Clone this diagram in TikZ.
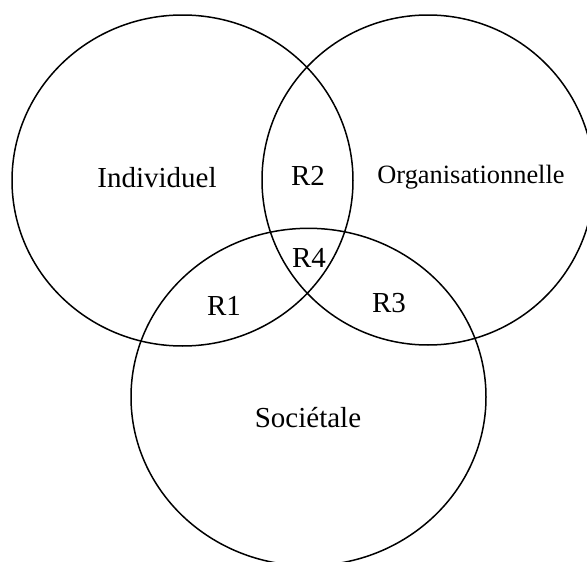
\documentclass[tikz,border=0pt]{standalone}
\usepackage{fontspec}
\setmainfont{Liberation Serif}

\begin{document}
\begin{tikzpicture}[x=1pt, y=-1pt,
	set/.style={line width=1.5pt},
	label/.style={anchor=base, inner sep=0pt, font=\fontsize{29}{29}\selectfont},
	small label/.style={label, font=\fontsize{26.4}{26.4}\selectfont}]
	\useasboundingbox (0,0) rectangle (587,562);
	\clip (0,0) rectangle (587,562);
	% the three sets
	\draw[set] (182.5,180.5) ellipse [x radius=170.5, y radius=165.5];
	\draw[set] (428,180) ellipse [x radius=166, y radius=165];
	\draw[set] (308.5,397) ellipse [x radius=177.5, y radius=168.7];
	% names
	\node[label] (ind) at (157,187) {Individuel};
	\node[small label] (org) at (471,183) {Organisationnelle};
	\node[label] (soc) at (308,427) {Sociétale};
	% overlaps
	\node[label] (R1) at (224,315) {R1};
	\node[label] (R2) at (308,185) {R2};
	\node[label] (R3) at (389,312) {R3};
	\node[label] (R4) at (309,267) {R4};
\end{tikzpicture}
\end{document}
